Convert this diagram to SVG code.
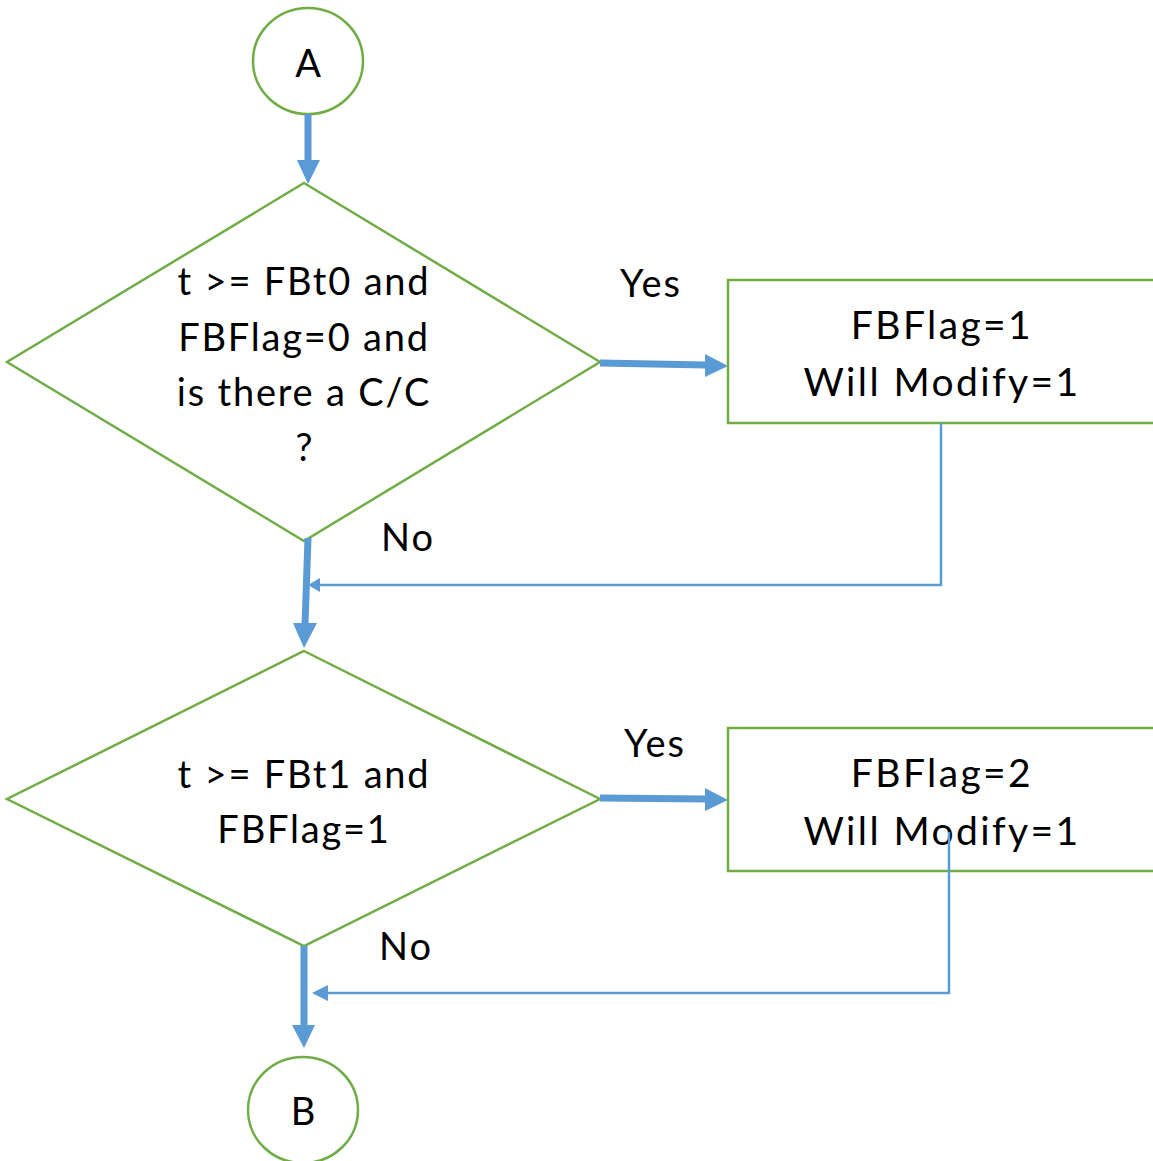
<svg xmlns="http://www.w3.org/2000/svg" width="1153" height="1161" viewBox="0 0 1153 1161">
  <style>
    .shape { fill: #ffffff; stroke: #70AD47; stroke-width: 2.5; }
    .lbl { font-family: "Lato", "Liberation Sans", sans-serif; font-size: 38px; letter-spacing: 1.8px; fill: #000000; text-anchor: middle; }
    .lbl-l { font-family: "Lato", "Liberation Sans", sans-serif; font-size: 38px; letter-spacing: 2px; fill: #000000; }
    .big { font-size: 39px; letter-spacing: 2.4px; }
    .thick { stroke: #5B9BD5; stroke-width: 7; fill: none; }
    .thin { stroke: #5B9BD5; stroke-width: 2.5; fill: none; }
    .head { fill: #5B9BD5; }
  </style>

  <g id="node-a">
    <ellipse class="shape" cx="308" cy="61" rx="55" ry="53"/>
    <text class="lbl" x="309" y="77">A</text>
  </g>

  <g id="decision-1">
    <polygon class="shape" points="304,183 600,362 304,541 7,362"/>
    <text class="lbl" x="304" y="295">t &gt;= FBt0 and</text>
    <text class="lbl" x="304" y="351">FBFlag=0 and</text>
    <text class="lbl" x="304" y="406">is there a C/C</text>
    <text class="lbl" x="305" y="461">?</text>
  </g>

  <g id="label-yes-1">
    <text class="lbl-l" x="620" y="297">Yes</text>
  </g>

  <g id="box-1">
    <rect class="shape" x="728" y="280" width="430" height="143"/>
    <text class="lbl big" x="942" y="339">FBFlag=1</text>
    <text class="lbl big" x="942" y="396">Will Modify=1</text>
  </g>

  <g id="label-no-1">
    <text class="lbl-l" x="381" y="551">No</text>
  </g>

  <g id="decision-2">
    <polygon class="shape" points="304,651 600,799 304,946 7,799"/>
    <text class="lbl" x="304" y="788">t &gt;= FBt1 and</text>
    <text class="lbl" x="304" y="843">FBFlag=1</text>
  </g>

  <g id="label-yes-2">
    <text class="lbl-l" x="624" y="757">Yes</text>
  </g>

  <g id="box-2">
    <rect class="shape" x="728" y="728" width="430" height="143"/>
    <text class="lbl big" x="942" y="787">FBFlag=2</text>
    <text class="lbl big" x="942" y="845">Will Modify=1</text>
  </g>

  <g id="label-no-2">
    <text class="lbl-l" x="379" y="960">No</text>
  </g>

  <g id="node-b">
    <ellipse class="shape" cx="303" cy="1110" rx="55" ry="53"/>
    <text class="lbl" x="304" y="1125">B</text>
  </g>

  <!-- connectors drawn last so they sit over the shape outlines -->
  <g id="connectors">
    <!-- A to first decision -->
    <line class="thick" x1="308" y1="114" x2="308" y2="162"/>
    <polygon class="head" points="297,160 320,160 308,184"/>
    <!-- first decision Yes -->
    <line class="thick" x1="600" y1="363" x2="706" y2="365"/>
    <polygon class="head" points="705,354 728,366 705,377"/>
    <!-- first box back to main flow -->
    <polyline class="thin" points="941,423 941,585 318,585"/>
    <polygon class="head" points="308,585 320,578 320,592"/>
    <!-- first decision No -->
    <line class="thick" x1="308" y1="538" x2="305" y2="625"/>
    <polygon class="head" points="293,623 317,623 304,648"/>
    <!-- second decision Yes -->
    <line class="thick" x1="600" y1="798" x2="706" y2="799"/>
    <polygon class="head" points="705,788 728,800 705,811"/>
    <!-- second box back to main flow -->
    <polyline class="thin" points="949,832 949,993 322,993"/>
    <polygon class="head" points="312,993 328,985 328,1001"/>
    <!-- second decision No to B -->
    <line class="thick" x1="304" y1="946" x2="304" y2="1027"/>
    <polygon class="head" points="292,1025 315,1025 304,1048"/>
  </g>
</svg>
